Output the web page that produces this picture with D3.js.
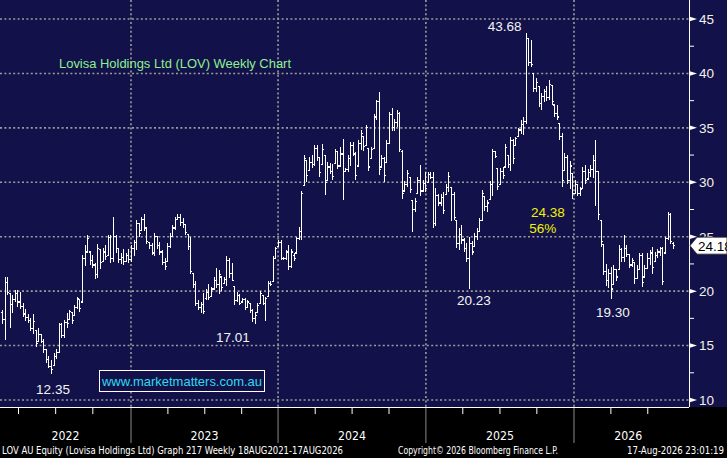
<!DOCTYPE html>
<html>
<head>
<meta charset="utf-8">
<script src="https://cdn.jsdelivr.net/npm/d3@7"></script>
<style>
  html, body { margin: 0; padding: 0; background: #000; }
  #chart { width: 727px; height: 458px; }
</style>
</head>
<body>
<div id="chart"></div>
<script>
// weekly bars, oldest first (index = week number)
const opens = [
  18.0, 17.4, 20.8, 19.8, 18.8, 19.2, 19.8, 19.0, 18.6, 17.9,
  17.6, 17.3, 16.6, 16.4, 15.4, 16.0, 15.4, 14.6, 13.7, 13.1,
  13.2, 14.0, 14.4, 16.9, 15.9, 17.1, 17.4, 18.0, 17.8, 18.5,
  19.2, 19.0, 23.0, 23.6, 23.6, 22.8, 22.4, 21.5, 23.8, 22.7,
  23.6, 23.3, 24.9, 23.0, 25.0, 23.9, 22.9, 23.1, 22.7, 23.3,
  22.9, 23.9, 24.5, 26.2, 25.6, 26.6, 25.8, 24.5, 24.2, 23.5,
  25.0, 24.2, 23.6, 22.6, 22.7, 24.1, 25.0, 25.8, 26.6, 26.8,
  26.3, 26.1, 25.2, 24.1, 21.6, 20.6, 18.9, 18.5, 18.8, 19.3,
  19.9, 19.5, 20.2, 21.0, 20.6, 21.3, 20.7, 21.1, 22.8, 21.6,
  20.4, 19.1, 19.6, 19.0, 19.2, 18.5, 18.9, 18.2, 17.5, 18.0,
  18.9, 19.6, 18.9, 19.5, 20.7, 20.9, 23.0, 24.1, 24.5, 23.0,
  23.0, 23.6, 22.3, 23.3, 23.5, 24.8, 25.5, 29.7, 32.0, 31.1,
  31.8, 31.6, 33.1, 32.3, 31.6, 32.5, 30.2, 31.4, 31.0, 31.7,
  32.8, 31.5, 32.6, 31.0, 31.2, 32.2, 33.4, 32.6, 31.5, 33.6,
  34.2, 33.4, 33.1, 32.2, 33.1, 36.0, 37.4, 31.4, 32.2, 31.8,
  33.6, 36.2, 35.0, 35.5, 36.3, 32.8, 29.2, 29.8, 30.4, 28.3,
  27.5, 29.0, 30.2, 29.2, 29.9, 30.0, 30.7, 30.4, 26.2, 28.8,
  28.1, 28.6, 28.9, 29.5, 29.5, 28.9, 26.5, 24.4, 25.2, 24.7,
  23.9, 23.0, 24.4, 24.1, 25.0, 25.5, 26.5, 28.7, 27.8, 28.4,
  29.8, 32.8, 31.3, 29.8, 31.0, 31.4, 32.5, 31.6, 33.8, 33.4,
  34.2, 34.8, 35.3, 35.6, 43.2, 41.0, 40.0, 38.6, 38.8, 37.2,
  37.9, 38.3, 37.8, 38.9, 37.1, 36.3, 35.4, 34.2, 31.1, 32.3,
  30.2, 30.8, 29.0, 29.8, 29.0, 29.4, 31.0, 30.3, 30.9, 31.2,
  32.0, 31.0, 26.5, 24.3, 21.8, 21.0, 21.6, 20.6, 22.0, 22.0,
  23.8, 23.1, 23.9, 23.4, 22.4, 22.6, 21.2, 22.0, 23.3, 21.3,
  22.1, 23.0, 23.5, 22.7, 23.3, 23.6, 23.9, 23.5, 24.8, 27.0,
  24.4
];
const highs = [
  18.3, 21.3, 21.3, 19.8, 19.6, 20.1, 20.1, 19.9, 18.9, 18.4,
  17.9, 17.5, 17.9, 16.4, 16.6, 16.1, 15.6, 14.6, 14.0, 13.7,
  14.3, 14.7, 17.1, 17.1, 17.35, 18.0, 18.3, 18.0, 18.7, 19.5,
  19.2, 23.3, 24.2, 25.2, 23.6, 23.3, 22.6, 24.3, 23.8, 24.0,
  24.2, 25.2, 25.2, 26.8, 25.2, 23.9, 23.5, 23.9, 23.5, 23.9,
  24.2, 24.7, 26.5, 26.2, 26.8, 27.1, 25.8, 24.5, 24.4, 25.3,
  25.0, 24.5, 23.8, 23.0, 24.4, 25.3, 26.1, 26.8, 27.1, 27.1,
  26.7, 26.2, 25.2, 25.0, 21.6, 20.9, 19.2, 19.0, 19.8, 20.2,
  20.7, 20.4, 21.3, 22.1, 21.9, 21.3, 21.3, 23.2, 23.0, 22.6,
  20.4, 19.9, 19.7, 19.4, 19.4, 19.2, 18.9, 18.4, 18.1, 18.9,
  20.0, 19.6, 19.5, 20.9, 20.9, 23.2, 24.1, 24.7, 24.7, 23.1,
  23.8, 24.2, 23.9, 23.5, 25.0, 25.9, 29.2, 32.5, 32.0, 32.3,
  32.5, 33.4, 33.4, 32.3, 33.5, 32.5, 31.9, 31.8, 31.7, 33.1,
  32.8, 33.2, 34.0, 31.3, 32.5, 33.7, 33.7, 32.8, 33.9, 34.8,
  34.2, 35.3, 33.1, 33.2, 36.3, 37.6, 38.3, 32.5, 32.3, 33.9,
  36.5, 36.8, 35.8, 36.6, 36.5, 33.0, 30.1, 31.1, 30.4, 28.3,
  28.6, 30.5, 31.6, 30.2, 30.9, 30.9, 30.9, 30.9, 29.5, 28.9,
  28.9, 29.1, 29.8, 30.9, 29.5, 29.1, 26.5, 25.8, 26.1, 24.9,
  24.4, 25.0, 24.6, 25.3, 25.8, 26.7, 29.3, 28.7, 28.4, 30.1,
  33.1, 32.9, 31.3, 31.3, 31.4, 33.5, 32.5, 34.2, 34.0, 34.2,
  35.0, 35.7, 36.0, 43.68, 43.3, 43.1, 40.0, 39.55, 38.8, 38.2,
  38.6, 38.8, 39.4, 38.9, 37.1, 37.1, 35.4, 34.5, 32.7, 32.5,
  32.0, 30.8, 30.2, 29.8, 29.6, 31.4, 31.6, 31.2, 31.6, 32.5,
  33.9, 31.0, 26.5, 24.3, 22.5, 22.0, 22.2, 22.4, 22.0, 24.2,
  24.0, 25.2, 24.2, 23.4, 23.0, 22.6, 22.4, 23.5, 23.5, 22.4,
  23.5, 23.8, 24.1, 23.6, 23.9, 24.1, 24.1, 25.0, 27.3, 27.2,
  24.5
];
const lows = [
  17.0, 15.5, 19.6, 16.6, 18.0, 19.0, 18.5, 18.4, 17.6, 17.3,
  17.1, 16.3, 16.1, 14.9, 15.4, 15.2, 14.3, 13.4, 12.9, 12.35,
  13.2, 13.8, 14.4, 15.7, 15.7, 16.6, 17.35, 17.0, 17.8, 18.4,
  18.1, 19.0, 22.3, 23.5, 22.4, 22.1, 21.1, 21.2, 22.0, 22.7,
  22.9, 23.3, 22.6, 22.7, 23.5, 22.6, 22.5, 22.4, 22.7, 22.6,
  22.7, 23.2, 23.8, 25.0, 25.6, 25.5, 24.3, 23.9, 23.3, 23.2,
  23.9, 23.3, 22.4, 21.9, 22.7, 24.0, 25.0, 25.6, 26.5, 26.0,
  25.8, 25.2, 23.8, 21.6, 20.3, 18.6, 18.3, 18.0, 17.9, 19.2,
  19.2, 19.5, 20.1, 20.3, 19.7, 20.0, 20.7, 20.5, 21.2, 20.9,
  18.7, 19.0, 18.7, 19.0, 18.3, 18.5, 18.0, 17.2, 17.01, 18.0,
  18.9, 18.7, 17.3, 19.5, 20.5, 20.9, 23.0, 24.1, 22.9, 22.9,
  22.9, 21.9, 22.1, 22.8, 23.5, 24.7, 24.7, 29.7, 30.0, 31.1,
  31.3, 31.5, 32.0, 30.5, 31.6, 28.8, 30.2, 30.8, 30.2, 31.7,
  31.2, 31.5, 28.4, 30.9, 30.9, 31.5, 32.4, 30.2, 31.5, 33.0,
  32.9, 33.4, 31.0, 32.2, 33.1, 35.7, 30.7, 31.4, 30.05, 31.8,
  33.5, 34.7, 34.7, 35.1, 32.8, 28.5, 29.1, 29.6, 29.0, 25.4,
  27.3, 29.0, 28.7, 29.1, 29.1, 30.0, 30.3, 25.8, 26.0, 27.8,
  27.8, 27.1, 28.9, 29.1, 26.4, 26.5, 24.0, 23.8, 24.3, 23.6,
  22.7, 20.23, 23.3, 24.1, 24.7, 25.5, 26.5, 27.4, 27.3, 28.4,
  28.7, 32.2, 29.3, 29.8, 30.3, 31.4, 31.3, 31.0, 31.7, 33.4,
  34.2, 34.4, 34.35, 35.4, 40.7, 40.6, 38.3, 38.3, 36.9, 36.6,
  37.4, 37.5, 37.6, 37.1, 36.0, 35.7, 33.9, 29.6, 31.1, 29.8,
  29.4, 28.5, 29.0, 28.7, 28.7, 29.4, 29.8, 30.3, 30.5, 30.4,
  27.8, 26.5, 24.1, 21.5, 20.5, 20.3, 19.3, 20.6, 20.9, 22.0,
  22.7, 22.7, 23.1, 22.1, 22.2, 20.7, 21.2, 21.9, 20.4, 21.3,
  22.1, 22.4, 21.6, 22.7, 23.0, 23.2, 20.6, 23.5, 24.7, 24.3,
  23.9
];
const closes = [
  17.4, 20.8, 19.9, 18.8, 19.2, 19.8, 19.0, 18.6, 17.9, 17.6,
  17.3, 16.6, 17.2, 15.2, 16.0, 15.4, 14.6, 13.7, 13.1, 12.8,
  14.0, 14.4, 16.9, 15.9, 17.1, 17.0, 18.1, 17.3, 18.5, 19.3,
  18.4, 23.0, 23.6, 24.8, 22.8, 22.4, 21.5, 23.9, 22.6, 23.6,
  23.2, 24.9, 23.0, 25.0, 23.9, 22.9, 23.1, 22.7, 23.3, 22.9,
  23.9, 24.5, 26.2, 25.3, 26.6, 25.8, 24.6, 24.2, 23.5, 25.0,
  24.2, 23.6, 22.6, 22.3, 24.1, 25.0, 25.8, 26.6, 26.8, 26.3,
  26.1, 25.4, 24.1, 21.8, 20.6, 18.9, 18.5, 18.8, 18.1, 19.9,
  19.4, 20.2, 21.0, 20.6, 21.5, 20.3, 21.1, 22.8, 21.6, 21.0,
  19.1, 19.6, 18.9, 19.2, 18.5, 19.0, 18.2, 17.5, 17.8, 18.7,
  19.8, 18.9, 19.3, 20.7, 20.6, 23.0, 23.9, 24.5, 23.0, 23.0,
  23.6, 22.3, 23.6, 23.0, 24.8, 25.5, 29.0, 32.2, 30.6, 31.8,
  31.6, 33.1, 32.3, 30.9, 33.0, 30.0, 31.4, 31.0, 30.5, 32.8,
  31.5, 32.6, 31.0, 31.2, 32.2, 33.4, 32.6, 30.6, 33.6, 34.5,
  33.3, 35.0, 31.4, 33.0, 36.0, 37.4, 31.2, 32.2, 30.6, 33.6,
  36.2, 35.0, 35.5, 36.3, 33.0, 29.0, 29.8, 30.8, 29.3, 27.5,
  28.2, 30.2, 29.2, 29.9, 29.4, 30.7, 30.4, 26.2, 28.8, 28.1,
  28.6, 27.4, 29.5, 30.5, 28.9, 26.8, 24.4, 25.2, 24.7, 23.9,
  23.0, 24.4, 23.6, 25.0, 25.5, 26.5, 29.0, 27.8, 28.1, 29.8,
  32.8, 32.4, 29.6, 31.0, 30.6, 33.2, 31.6, 33.8, 32.2, 34.0,
  34.8, 35.3, 35.6, 43.2, 41.0, 40.8, 38.6, 39.2, 37.2, 37.9,
  38.3, 37.8, 39.0, 37.4, 36.3, 36.0, 34.2, 30.2, 32.3, 30.2,
  31.5, 29.0, 29.8, 29.0, 29.3, 31.0, 30.2, 30.9, 31.2, 32.0,
  31.0, 27.0, 24.6, 21.8, 21.0, 21.6, 20.2, 22.0, 21.3, 23.8,
  23.1, 23.9, 23.4, 22.4, 22.8, 21.2, 22.0, 23.3, 20.8, 22.1,
  23.0, 23.5, 22.2, 23.3, 23.6, 23.9, 20.9, 24.8, 27.0, 24.6,
  24.18
];

// time axis (in week numbers)
const yearLabels = ["2022", "2023", "2024", "2025", "2026"];
const yearStartWeeks = [50, 107, 164.3, 221.7];
const quarterWeeks = [6.4, 20.8, 35.2, 64.3, 78.6, 92.9, 121.4, 135.7, 150, 178.6, 193, 207.3, 236, 250.3];

// price axis
const priceTicks = [10, 15, 20, 25, 30, 35, 40, 45];
const priceMinorTicks = [12.5, 17.5, 22.5, 27.5, 32.5, 37.5, 42.5];

// annotations: week, price, label
const pointNotes = [
  { week: 203, price: 43.68, text: "43.68", dx: -21, dy: -7 },
  { week: 19, price: 12.35, text: "12.35", dx: 2, dy: 15 },
  { week: 98, price: 17.01, text: "17.01", dx: -22, dy: 13 },
  { week: 181, price: 20.23, text: "20.23", dx: 5, dy: 12 },
  { week: 236, price: 19.30, text: "19.30", dx: 2, dy: 13 }
];
const moveNotes = ["24.38", "56%"];
const lastPrice = 24.18;

const width = 727;
const height = 458;
const plotRight = 689;
const plotBottom = 407;
const navy = "#12114a";
const gridColor = "#9c9c9c";

const svg = d3.select("#chart")
  .append("svg")
  .attr("width", width)
  .attr("height", height)
  .style("display", "block");

svg.append("rect")
  .attr("width", width)
  .attr("height", height)
  .attr("fill", "#000");

svg.append("rect")
  .attr("width", width)
  .attr("height", plotBottom)
  .attr("fill", navy);

const x = d3.scaleLinear()
  .domain([0, closes.length - 1])
  .range([2, 672.8]);

const y = d3.scaleLinear()
  .domain([10, 45])
  .range([400, 19]);

// grid
svg.append("g")
  .selectAll("line")
  .data(priceTicks)
  .enter()
  .append("line")
  .attr("x1", 0)
  .attr("x2", plotRight)
  .attr("y1", (d) => y(d))
  .attr("y2", (d) => y(d))
  .attr("stroke", gridColor)
  .attr("stroke-width", 1.6)
  .attr("stroke-dasharray", "2,2.4");

svg.append("g")
  .selectAll("line")
  .data(yearStartWeeks)
  .enter()
  .append("line")
  .attr("x1", (d) => x(d))
  .attr("x2", (d) => x(d))
  .attr("y1", 0)
  .attr("y2", plotBottom)
  .attr("stroke", gridColor)
  .attr("stroke-width", 1.6)
  .attr("stroke-dasharray", "2,2.4");

// ohlc bars
const bars = svg.append("g")
  .attr("stroke", "#fff")
  .attr("stroke-width", 1.1)
  .attr("shape-rendering", "crispEdges");

closes.forEach((close, i) => {
  const cx = Math.round(x(i)) + 0.5;
  bars.append("line")
    .attr("x1", cx).attr("x2", cx)
    .attr("y1", y(highs[i])).attr("y2", y(lows[i]));
  bars.append("line")
    .attr("x1", cx - 1.6).attr("x2", cx)
    .attr("y1", y(opens[i])).attr("y2", y(opens[i]));
  bars.append("line")
    .attr("x1", cx).attr("x2", cx + 1.6)
    .attr("y1", y(close)).attr("y2", y(close));
});

// right axis
svg.append("line")
  .attr("x1", plotRight + 0.5).attr("x2", plotRight + 0.5)
  .attr("y1", 0).attr("y2", plotBottom)
  .attr("stroke", "#fff")
  .attr("stroke-width", 1);

svg.append("line")
  .attr("x1", 0).attr("x2", plotRight)
  .attr("y1", plotBottom + 0.5).attr("y2", plotBottom + 0.5)
  .attr("stroke", "#fff")
  .attr("stroke-width", 1);

const yAxis = svg.append("g");

yAxis.selectAll("path.arrow")
  .data(priceTicks)
  .enter()
  .append("path")
  .attr("class", "arrow")
  .attr("d", (d) => `M${plotRight},${y(d) - 2.5}L${plotRight + 8},${y(d)}L${plotRight},${y(d) + 2.5}Z`)
  .attr("fill", "#fff");

yAxis.selectAll("line.minor")
  .data(priceMinorTicks)
  .enter()
  .append("line")
  .attr("class", "minor")
  .attr("x1", plotRight)
  .attr("x2", plotRight + 5)
  .attr("y1", (d) => y(d))
  .attr("y2", (d) => y(d))
  .attr("stroke", "#fff")
  .attr("stroke-width", 1);

yAxis.selectAll("text")
  .data(priceTicks)
  .enter()
  .append("text")
  .attr("x", plotRight + 10)
  .attr("y", (d) => y(d))
  .attr("dy", "0.36em")
  .attr("fill", "#f2f2ea")
  .attr("font-family", "'Liberation Sans', Arial, sans-serif")
  .attr("font-size", 13.5)
  .text((d) => d);

// last price flag
const flagY = y(lastPrice);
svg.append("path")
  .attr("d", `M${plotRight + 1},${flagY}L${plotRight + 8},${flagY - 8.5}L${width},${flagY - 8.5}L${width},${flagY + 8.5}L${plotRight + 8},${flagY + 8.5}Z`)
  .attr("fill", "#fff")
  .attr("stroke", "#222")
  .attr("stroke-width", 0.8);

svg.append("text")
  .attr("x", plotRight + 9)
  .attr("y", flagY)
  .attr("dy", "0.36em")
  .attr("fill", "#000")
  .attr("font-family", "'Liberation Sans', Arial, sans-serif")
  .attr("font-size", 13.5)
  .text(lastPrice.toFixed(2));

// bottom axis
const xAxis = svg.append("g");

xAxis.selectAll("line.quarter")
  .data(quarterWeeks)
  .enter()
  .append("line")
  .attr("class", "quarter")
  .attr("x1", (d) => x(d))
  .attr("x2", (d) => x(d))
  .attr("y1", plotBottom + 1)
  .attr("y2", plotBottom + 7)
  .attr("stroke", "#fff")
  .attr("stroke-width", 1);

xAxis.selectAll("line.year")
  .data(yearStartWeeks)
  .enter()
  .append("line")
  .attr("class", "year")
  .attr("x1", (d) => x(d))
  .attr("x2", (d) => x(d))
  .attr("y1", plotBottom + 1)
  .attr("y2", 443)
  .attr("stroke", "#8a8a8a")
  .attr("stroke-width", 1);

const yearEdges = [-0.8, ...yearStartWeeks, 263.8];
xAxis.selectAll("text")
  .data(yearLabels)
  .enter()
  .append("text")
  .attr("x", (d, i) => (x(yearEdges[i]) + x(yearEdges[i + 1])) / 2)
  .attr("y", 440)
  .attr("text-anchor", "middle")
  .attr("fill", "#fff")
  .attr("font-family", "'DejaVu Sans Condensed', 'Liberation Sans Narrow', sans-serif")
  .attr("font-size", 13)
  .attr("textLength", 28)
  .attr("lengthAdjust", "spacingAndGlyphs")
  .text((d) => d);

// footer
const footer = [
  { text: "LOV AU Equity (Lovisa Holdings Ltd) Graph 217 Weekly 18AUG2021-17AUG2026", x: 2, w: 341 },
  { text: "Copyright\u00a9 2026 Bloomberg Finance L.P.", x: 398, w: 160 },
  { text: "17-Aug-2026 23:01:19", x: 627, w: 97 }
];
svg.append("g")
  .selectAll("text")
  .data(footer)
  .enter()
  .append("text")
  .attr("x", (d) => d.x)
  .attr("y", 454)
  .attr("fill", "#fff")
  .attr("font-family", "'DejaVu Sans Condensed', 'Liberation Sans Narrow', sans-serif")
  .attr("font-size", 10.5)
  .attr("textLength", (d) => d.w)
  .attr("lengthAdjust", "spacingAndGlyphs")
  .text((d) => d.text);

// title
svg.append("text")
  .attr("x", 59)
  .attr("y", 67.5)
  .attr("fill", "#8ff08f")
  .attr("font-family", "'Liberation Sans', Arial, sans-serif")
  .attr("font-size", 12.5)
  .attr("textLength", 232)
  .attr("lengthAdjust", "spacingAndGlyphs")
  .text("Lovisa Holdings Ltd (LOV) Weekly Chart");

// point labels
svg.append("g")
  .selectAll("text")
  .data(pointNotes)
  .enter()
  .append("text")
  .attr("x", (d) => x(d.week) + d.dx)
  .attr("y", (d) => y(d.price) + d.dy)
  .attr("dy", "0.36em")
  .attr("text-anchor", "middle")
  .attr("fill", "#f4f4f4")
  .attr("font-family", "'Liberation Sans', Arial, sans-serif")
  .attr("font-size", 13.5)
  .text((d) => d.text);

// fall from high to low
svg.append("g")
  .selectAll("text")
  .data(moveNotes)
  .enter()
  .append("text")
  .attr("x", (d, i) => x(217) + (i === 0 ? -14 : -19))
  .attr("y", (d, i) => y(27.3) + i * 16)
  .attr("dy", "0.36em")
  .attr("text-anchor", "middle")
  .attr("fill", "#f2f200")
  .attr("font-family", "'Liberation Sans', Arial, sans-serif")
  .attr("font-size", 13.5)
  .text((d) => d);

// watermark
svg.append("rect")
  .attr("x", 99.5)
  .attr("y", 370.5)
  .attr("width", 165)
  .attr("height", 21)
  .attr("fill", navy)
  .attr("stroke", "#fff")
  .attr("stroke-width", 1);

svg.append("text")
  .attr("x", 182)
  .attr("y", 381)
  .attr("dy", "0.36em")
  .attr("text-anchor", "middle")
  .attr("fill", "#2fdcec")
  .attr("font-family", "'Liberation Sans', Arial, sans-serif")
  .attr("font-size", 13.5)
  .attr("textLength", 160)
  .attr("lengthAdjust", "spacingAndGlyphs")
  .text("www.marketmatters.com.au");
</script>
</body>
</html>
